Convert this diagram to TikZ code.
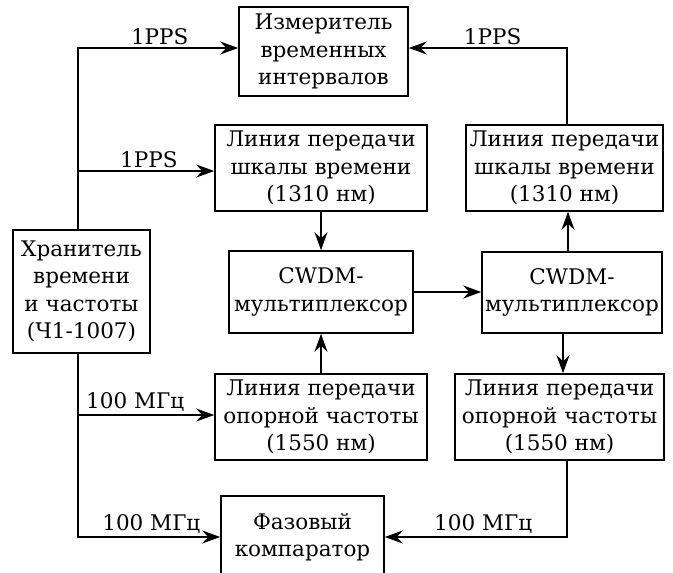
\documentclass[tikz,border=0pt]{standalone}
\usepackage{fontspec}
\setmainfont{DejaVu Serif}
\usetikzlibrary{arrows.meta}

\begin{document}
\begin{tikzpicture}[
    x=1pt, y=-1pt,
    block/.style={draw, line width=1.6pt, align=center, inner sep=0pt, font=\fontsize{21.5}{27.5}\selectfont},
    lbl/.style={above, inner sep=2.5pt, font=\fontsize{21.5}{24}\selectfont},
    arrow/.style={-{Stealth[length=18pt, width=13pt, inset=6pt]}, line width=1.4pt}
]
\useasboundingbox (0,0) rectangle (673,573);

\node[block, minimum width=169pt, minimum height=89pt] (meter) at (323.5,51.5) {Измеритель\\временных\\интервалов};
\node[block, minimum width=212pt, minimum height=86pt] (tsL) at (321,168) {Линия передачи\\шкалы времени\\(1310 нм)};
\node[block, minimum width=197pt, minimum height=86pt] (tsR) at (564.5,168) {Линия передачи\\шкалы времени\\(1310 нм)};
\node[block, minimum width=137pt, minimum height=123pt] (keeper) at (81.5,291.5) {Хранитель\\времени\\и частоты\\(Ч1-1007)};
\node[block, minimum width=184pt, minimum height=82pt] (muxL) at (321,292) {CWDM-\\мультиплексор};
\node[block, minimum width=180pt, minimum height=81pt] (muxR) at (572,292.5) {CWDM-\\мультиплексор};
\node[block, minimum width=212pt, minimum height=86pt] (rfL) at (321,417) {Линия передачи\\опорной частоты\\(1550 нм)};
\node[block, minimum width=209pt, minimum height=86pt] (rfR) at (559.5,417) {Линия передачи\\опорной частоты\\(1550 нм)};
\node[block, minimum width=163pt, minimum height=82pt] (comp) at (302.5,537) {Фазовый\\компаратор};

% connection points
\coordinate (keeperUp) at ([xshift=-3.5pt]keeper.north);
\coordinate (keeperDown) at ([xshift=-3.5pt]keeper.south);
\coordinate (tsLIn) at ([yshift=-3pt]tsL.west);
\coordinate (rfLIn) at ([yshift=2pt]rfL.west);
\coordinate (muxROut) at ([xshift=-4pt]muxR.north);
\coordinate (rfRIn) at ([xshift=3.5pt]rfR.north);

% 1PPS
\draw[arrow] (keeperUp) |- node[lbl, pos=0.755] (ppsA) {1PPS} ([yshift=3.5pt]meter.west);
\draw[arrow] (keeperUp |- tsLIn) -- node[lbl, pos=0.52] (ppsB) {1PPS} (tsLIn);
\draw[arrow] ([xshift=2.5pt]tsR.north) |- node[lbl, pos=0.735] (ppsC) {1PPS} ([yshift=3.5pt]meter.east);

% 100 MHz
\draw[arrow] (keeperDown) |- node[lbl, pos=0.71] (mhzA) {100 МГц} (rfLIn);
\draw[arrow] (keeperDown) |- node[lbl, pos=0.758] (mhzB) {100 МГц} (comp.west);
\draw[arrow] ([xshift=7.5pt]rfR.south) |- node[lbl, pos=0.73] (mhzC) {100 МГц} (comp.east);

% optical part
\draw[arrow] (tsL.south) -- (muxL.north);
\draw[arrow] (rfL.north) -- (muxL.south);
\draw[arrow] (muxL.east) -- (muxL.east -| muxR.west);
\draw[arrow] (muxROut) -- (muxROut |- tsR.south);
\draw[arrow] (rfRIn |- muxR.south) -- (rfRIn);
\end{tikzpicture}
\end{document}
